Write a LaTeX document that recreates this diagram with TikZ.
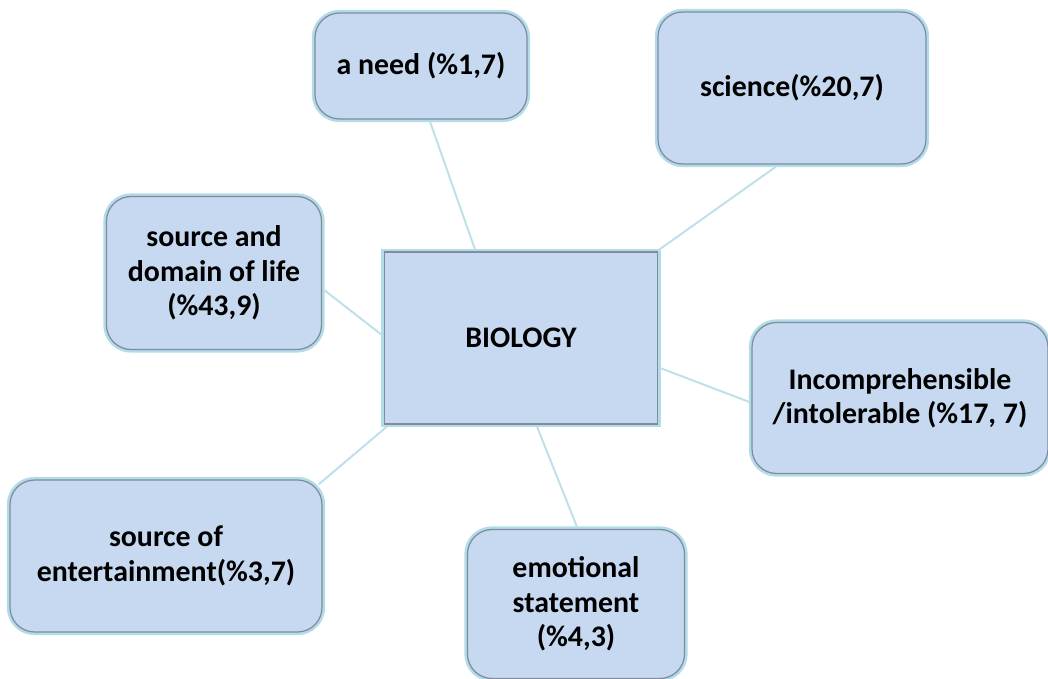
\documentclass[tikz,border=0pt]{standalone}
\usepackage{fontspec}
\setmainfont{Carlito}
\usepackage{tikz}
\usetikzlibrary{positioning, calc}
\definecolor{boxfill}{RGB}{198,217,240}
\definecolor{boxedge}{RGB}{178,220,232}
\definecolor{boxshade}{RGB}{128,140,158}
\definecolor{linkline}{RGB}{190,224,234}
\tikzset{
  idea/.style    ={rectangle, rounded corners=14pt, fill=boxfill, draw=boxshade, line width=0.7pt,
                   preaction={draw=boxedge, line width=3.6pt},
                   font=\fontsize{17}{19.5}\selectfont\bfseries, align=center, inner sep=0pt},
  hub/.style     ={idea, rounded corners=0pt},
  link/.style    ={draw=linkline, line width=1.1pt},
}
\begin{document}
\begin{tikzpicture}[x=0.02cm, y=-0.02cm]
\fill[white] (0,0) rectangle (1048,679);
\useasboundingbox (0,0) rectangle (1048,679);

\node[hub, minimum width=273*0.02cm, minimum height=172*0.02cm] (bio) at (521,338) {BIOLOGY};

\node[idea, minimum width=212*0.02cm, minimum height=106*0.02cm] (need) at (421,66)
  {a need (\%1,7)};
\node[idea, minimum width=268*0.02cm, minimum height=152*0.02cm] (sci) at (792,88)
  {science(\%20,7)};
\node[idea, minimum width=215*0.02cm, minimum height=153*0.02cm] (life) at (214,273)
  {source and\\domain of life\\(\%43,9)};
\node[idea, minimum width=296*0.02cm, minimum height=151*0.02cm] (incomp) at (900,398)
  {Incomprehensible\\/intolerable (\%17, 7)};
\node[idea, minimum width=312*0.02cm, minimum height=152*0.02cm] (fun) at (166,556)
  {source of\\entertainment(\%3,7)};
\node[idea, minimum width=217*0.02cm, minimum height=149*0.02cm] (emo) at (576,604)
  {emotional\\statement\\(\%4,3)};

% links to the hub
\draw[link] ($(need.south)+(9,2)$) -- ($(bio.north)+(-46,-2)$);
\draw[link] ($(sci.south)+(-16,2)$) -- ($(bio.north east)+(0,-1)$);
\draw[link] ($(life.east)+(2,17)$) -- ($(bio.west)+(-2,-3)$);
\draw[link] ($(bio.east)+(2,30)$) -- ($(incomp.west)+(-2,4)$);
\draw[link] ($(bio.south west)+(3,2)$) -- ($(fun.north east)+(-4,5)$);
\draw[link] ($(bio.south)+(16,2)$) -- ($(emo.north)+(1,-2)$);
\end{tikzpicture}
\end{document}
